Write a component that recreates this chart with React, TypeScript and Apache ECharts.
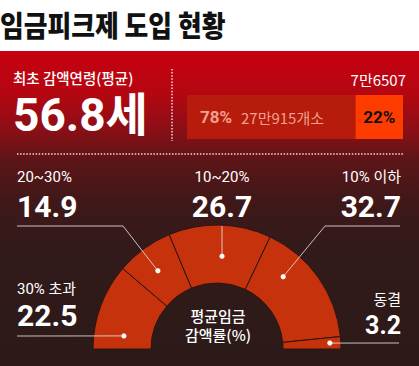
import React, { useEffect, useRef } from "react";
import * as echarts from "echarts";

// ---- data ----
const categories = ["30% 초과", "20~30%", "10~20%", "10% 이하", "동결"];
const values = [22.5, 14.9, 26.7, 32.7, 3.2];
const title = "임금피크제 도입 현황";
const ageLabel = "최초 감액연령(평균)";
const ageValue = "56.8세";
const adoptShare = [78, 22];
const adoptCount = ["27만915개소", "7만6507"];
const centerLabel = ["평균임금", "감액률(%)"];

// ---- layout ----
const FONT = '"Noto Sans CJK KR", "Noto Sans", sans-serif';
const NUM_FONT = 'Roboto, "Noto Sans CJK KR", sans-serif';
const CX = 217;
const CY = 349;
// label layout per category: anchor text position and leader line elbow, dot polar (deg, r)
const labelLayout = [
  { x: 17, align: "left", ty: 289, vy: 315, vs: 30, dot: [172, 94], line: [[17, 336]] },
  { x: 17, align: "left", ty: 177, vy: 206, vs: 30, dot: [127.1, 98], line: [[17, 226], [123, 226]] },
  { x: 222, align: "center", ty: 177, vy: 206, vs: 30, dot: [86.9, 93], line: [[222, 226]] },
  { x: 401, align: "right", ty: 177, vy: 206, vs: 30, dot: [47.5, 98], line: [[400, 226], [325, 226]] },
  { x: 401, align: "right", ty: 300, vy: 325, vs: 25, dot: [3, 113], line: [[399, 343]] },
];

function txt(text: string, x: number, y: number, size: number, weight: string | number, fill: string, align: string, family = FONT, extra: any = {}) {
  return {
    type: "text",
    ...extra,
    style: {
      text,
      x,
      y,
      fill,
      fontFamily: family,
      fontSize: size,
      fontWeight: weight,
      lineHeight: Math.round(size * 0.9),
      align,
      verticalAlign: "middle",
    },
  };
}

export default function App() {
  const ref = useRef<HTMLDivElement>(null);
  useEffect(() => {
    if (!ref.current) return;
    const chart = echarts.init(ref.current, undefined, { renderer: "svg" });
    const graphics: any[] = [];

    graphics.push(txt(title, 0, 0, 29, 900, "#111", "left", FONT, { x: 0, y: 24, scaleX: 0.89 }));

    // top section
    graphics.push(txt(ageLabel, 13, 77, 14.5, 500, "#fff", "left"));
    graphics.push(txt(ageValue, 13, 115, 46, "bold", "#fff", "left", NUM_FONT));
    graphics.push({
      type: "line",
      shape: { x1: 172, y1: 69, x2: 172, y2: 141 },
      style: { stroke: "rgba(255,255,255,0.85)", lineWidth: 1.5, lineDash: [1.5, 1.6] },
    });
    graphics.push({
      type: "line",
      shape: { x1: 17, y1: 154, x2: 403, y2: 154 },
      style: { stroke: "rgba(255,255,255,0.85)", lineWidth: 1.5, lineDash: [1.5, 1.6] },
    });

    const barX = 187;
    const barW = 216;
    const total = adoptShare[0] + adoptShare[1];
    const split = barX + (barW * adoptShare[0]) / total;
    graphics.push({
      type: "rect",
      shape: { x: barX, y: 95, width: split - barX, height: 44 },
      style: { fill: "#b61b0b" },
    });
    graphics.push({
      type: "rect",
      shape: { x: split, y: 95, width: barX + barW - split, height: 44 },
      style: { fill: "#ff3c00" },
    });
    graphics.push(txt(adoptShare[0] + "%", 200, 117, 17, "bold", "#f2a08e", "left", NUM_FONT));
    graphics.push(txt(adoptCount[0], 241, 117, 15, "normal", "#f2a08e", "left"));
    graphics.push(txt(adoptShare[1] + "%", (split + barX + barW) / 2, 117, 17, "bold", "#111", "center", NUM_FONT));
    graphics.push(txt(adoptCount[1], 406, 79, 15, "normal", "#fff", "right"));

    // category labels, leader lines and dots
    categories.forEach((name, i) => {
      const L = labelLayout[i];
      graphics.push(txt(name, L.x, L.ty, 15, "normal", "#fff", L.align, NUM_FONT));
      graphics.push(txt(values[i].toFixed(1), L.x, L.vy, L.vs, "bold", "#fff", L.align, NUM_FONT));
      const a = (L.dot[0] * Math.PI) / 180;
      const dx = CX + L.dot[1] * Math.cos(a);
      const dy = CY - L.dot[1] * Math.sin(a);
      graphics.push({
        type: "polyline",
        z: 100,
        shape: { points: [...L.line, [dx, dy]] },
        style: { stroke: "rgba(230,220,220,0.85)", lineWidth: 1, fill: null },
      });
      graphics.push({
        type: "circle",
        z: 101,
        shape: { cx: dx, cy: dy, r: 2.6 },
        style: { fill: "#fff" },
      });
    });

    graphics.push(txt(centerLabel[0], 218, 315, 15, 500, "#fff", "center", FONT, { z: 100 }));
    graphics.push(txt(centerLabel[1], 218, 334, 15, 500, "#fff", "center", FONT, { z: 100 }));

    chart.setOption({
      animation: false,
      backgroundColor: "transparent",
      graphic: { elements: graphics },
      series: [
        {
          type: "pie",
          center: [CX, CY],
          radius: [66, 124],
          startAngle: 180,
          endAngle: 0,
          clockwise: true,
          silent: true,
          label: { show: false },
          labelLine: { show: false },
          emphasis: { disabled: true },
          itemStyle: { color: "#c6320c", borderColor: "#2c1512", borderWidth: 1 },
          data: categories.map((n, i) => ({ name: n, value: values[i] })),
        },
      ],
    });
    return () => chart.dispose();
  }, []);

  return (
    <div
      style={{
        position: "absolute",
        left: 0,
        top: 0,
        width: 419,
        height: 366,
        background:
          "linear-gradient(to bottom, #ffffff 0px, #ffffff 51px, #c8000f 51px, #b30712 95px, #8a0f16 130px, #5c1517 160px, #401819 200px, #321a1a 250px, #2b1a18 366px)",
      }}
    >
      <div ref={ref} style={{ width: 419, height: 366 }} />
    </div>
  );
}
